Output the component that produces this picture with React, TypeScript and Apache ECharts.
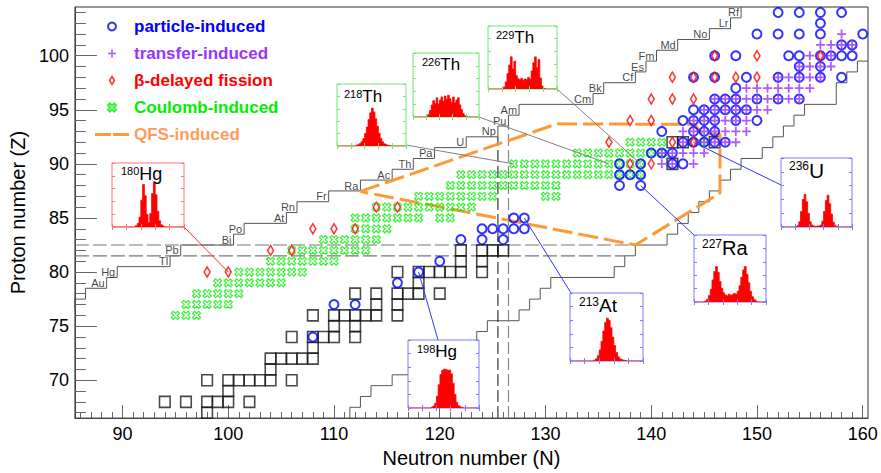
import React, { useEffect, useRef } from "react";
import * as echarts from "echarts";

const FONT = "'Liberation Sans', Arial, Helvetica, sans-serif";

// ---------- axis ticks ----------
const xMajorTicks = [90, 100, 110, 120, 130, 140, 150, 160];
const xMinorTicks = [86,87,88,89,90,91,92,93,94,95,96,97,98,99,100,101,102,103,104,105,106,107,108,109,110,111,112,113,114,115,116,117,118,119,120,121,122,123,124,125,126,127,128,129,130,131,132,133,134,135,136,137,138,139,140,141,142,143,144,145,146,147,148,149,150,151,152,153,154,155,156,157,158,159,160];
const yMajorTicks = [70, 75, 80, 85, 90, 95, 100];
const yMinorTicks = [67,68,69,70,71,72,73,74,75,76,77,78,79,80,81,82,83,84,85,86,87,88,89,90,91,92,93,94,95,96,97,98,99,100,101,102,103,104];

// ---------- limits of known nuclei ----------
const pdlZ = [77,78,79,80,81,82,83,84,85,86,87,88,89,90,91,92,93,94,95,96,97,98,99,100,101,102,103,104];
const pdlNmin = [86,87,89,90,95,96,101,102,106,107,110,113,116,118,120,123,126,127,128,135,136,139,140,141,143,146,148,149];
const ndlZ = [67,68,69,70,71,72,73,74,75,76,77,78,79,80,81,82,83,84,85,86,87,88,89,90,91,92,93,94,95,96,97,98,99];
const ndlNmax = [111,112,113,115,117,119,121,123,124,127,128,129,130,136,137,138,141,142,143,144,145,146,147,148,150,151,152,153,154,157,157,158,159];
const elemZ = [79,80,81,82,83,84,85,86,87,88,89,90,91,92,93,94,95,96,97,98,99,100,101,102,103,104];
const elemSym = ["Au","Hg","Tl","Pb","Bi","Po","At","Rn","Fr","Ra","Ac","Th","Pa","U","Np","Pu","Am","Cm","Bk","Cf","Es","Fm","Md","No","Lr","Rf"];

// magic-number guide lines
const magicZLines = [[[85.5, 82.5], [138.5, 82.5]], [[85.5, 81.5], [137.5, 81.5]]];
const magicNLines = [[[125.5, 66.5], [125.5, 92.5]], [[126.5, 66.5], [126.5, 93.5]]];

// QFS region polygon
const qfsN = [112.5, 131.1, 144.1, 144.8, 146.5, 146.5, 138.5, 112.5];
const qfsZ = [87.45, 93.7, 93.65, 92.75, 92.75, 87.3, 82.5, 87.45];

// ---------- nuclei (rows: [Z, N list]) ----------
const blackSquareRows: [number, number[]][] = [
  [67, [98]],
  [68, [94, 96, 98, 99, 100, 102]],
  [69, [100]],
  [70, [98, 100, 101, 102, 103, 104, 106]],
  [71, [104]],
  [72, [104, 105, 106, 107, 108]],
  [73, [108]],
  [74, [106, 108, 109, 110, 112]],
  [75, [110, 112]],
  [76, [108, 110, 111, 112, 113, 114, 116]],
  [77, [114, 116]],
  [78, [112, 114, 116, 117, 118, 120]],
  [79, [118]],
  [80, [116, 118, 119, 120, 121, 122, 124]],
  [81, [122, 124]],
  [82, [122, 124, 125, 126]],
  [90, [142]],
  [92, [142, 143, 146]],
];
const coulombRows: [number, number[]][] = [
  [76, [95, 96, 97]],
  [77, [96, 97, 98, 99, 100]],
  [78, [97, 98, 99, 100, 101]],
  [79, [99, 100, 101, 102, 103, 104, 105]],
  [80, [101, 102, 103, 104, 105, 106, 107]],
  [81, [104, 105, 106, 107, 108, 109, 110]],
  [82, [106, 107, 108, 109, 110, 111, 112, 113]],
  [83, [109, 110, 111, 112, 113, 114]],
  [84, [112, 113, 114, 115]],
  [85, [112, 113, 114, 115, 116, 117, 118, 120, 121]],
  [86, [114, 115, 116, 117, 118, 119, 120, 121, 122, 123]],
  [87, [118, 119, 120, 121, 122, 123, 124, 125, 130, 131]],
  [88, [121, 122, 123, 124, 125, 126, 127, 128, 129, 130, 131]],
  [89, [122, 123, 124, 125, 126, 127, 128, 129, 130, 131, 132, 133, 134, 135, 136, 137, 138, 139]],
  [90, [127, 128, 129, 130, 131, 132, 133, 134, 135, 136, 137, 138, 139]],
  [91, [133, 134, 135, 136, 137, 138, 139, 140, 141]],
  [92, [138, 139, 140, 141, 144, 145]],
];
const particleRows: [number, number[]][] = [
  [74, [108]],
  [77, [110, 112]],
  [79, [116]],
  [80, [118]],
  [81, [120]],
  [83, [122, 124, 126]],
  [84, [124, 125, 126, 127, 128]],
  [85, [127, 128]],
  [88, [137, 139]],
  [89, [137, 138, 139]],
  [90, [137, 139, 142, 143]],
  [91, [140, 141, 142]],
  [92, [143, 144, 145, 146, 147]],
  [93, [141, 144, 145, 146]],
  [94, [143, 144, 145, 146, 148, 150]],
  [95, [144, 145, 146, 147, 148, 149]],
  [96, [146, 147, 148, 150, 152, 154]],
  [97, [148]],
  [98, [144, 146, 149, 152, 154, 156, 158]],
  [99, [154, 156]],
  [100, [146, 148, 153, 154, 156, 157, 158, 159]],
  [101, [158, 159]],
  [102, [150, 152, 154, 156, 160]],
  [103, [156]],
  [104, [152, 154, 156, 158]],
];
const transferRows: [number, number[]][] = [
  [90, [141, 142, 144]],
  [91, [141, 142, 143, 144, 145]],
  [92, [143, 144, 145, 146, 147, 148]],
  [93, [143, 144, 145, 146, 147, 148, 149]],
  [94, [144, 145, 146, 147, 148, 149]],
  [95, [145, 146, 147, 148, 149, 150, 151]],
  [96, [146, 147, 148, 149, 150, 151, 152, 153, 154]],
  [97, [149, 150, 151, 152, 153, 154, 155]],
  [98, [152, 153, 154, 155, 156]],
  [99, [154, 155, 156, 157]],
  [100, [155, 156, 157]],
  [101, [156, 157, 158, 159]],
  [102, [158]],
];
const betaDelayedRows: [number, number[]][] = [
  [80, [98, 100]],
  [82, [104, 106]],
  [84, [108, 110, 112]],
  [86, [114, 116]],
  [90, [138, 140]],
  [92, [136, 142, 144]],
  [94, [138, 140]],
  [96, [140, 142, 144]],
  [98, [142, 144, 146, 148, 150]],
  [100, [146, 150, 156]],
];

// ---------- inset histograms (fission-fragment distributions) ----------
const hist180Hg = [0,0,0,0,0,0,0,0,0,0,0,0,0,3,8,22,60,95,70,28,10,30,75,100,72,35,14,5,2,0,0,0,0,0,0,0,0,0,0,0];
const hist218Th = [0,0,0,0,0,0,0,0,0,0,0,2,4,7,12,20,33,50,70,88,100,90,72,52,34,20,11,6,4,2,1,0,0,0,0,0,0,0,0,0];
const hist226Th = [0,0,0,0,0,0,0,0,4,12,30,55,75,62,88,60,78,92,72,96,82,100,84,68,92,66,78,88,56,34,16,6,2,0,0,0,0,0,0,0];
const hist229Th = [0,0,0,0,0,0,0,0,0,6,22,48,75,100,62,86,42,32,29,33,27,31,29,36,31,56,82,100,66,92,34,9,2,0,0,0,0,0,0,0];
const hist236U = [0,0,0,0,0,0,0,0,0,4,16,48,85,100,78,42,16,6,3,2,3,3,6,18,48,82,98,72,40,15,5,1,0,0,0,0,0,0,0,0];
const hist227Ra = [0,0,0,0,0,0,3,8,18,36,62,86,100,84,58,38,26,20,17,22,18,21,24,22,30,46,70,90,100,78,54,30,15,7,3,0,0,0,0,0];
const hist213At = [0,0,0,0,0,0,0,0,0,0,0,0,0,2,5,12,26,46,70,90,100,95,78,56,36,20,10,5,3,2,1,0,0,0,0,0,0,0,0,0];
const hist198Hg = [0,0,0,0,0,0,0,0,0,0,0,0,0,2,5,12,30,60,86,97,100,99,97,98,88,64,35,15,6,3,1,0,0,0,0,0,0,0,0,0];

const insetMass = ["180", "218", "226", "229", "236", "227", "213", "198"];
const insetElem = ["Hg", "Th", "Th", "Th", "U", "Ra", "At", "Hg"];
const insetNuclei = [[100, 80], [127, 90], [136, 90], [139, 90], [144, 92], [139, 88], [128, 85], [118, 80]];
const insetHists = [hist180Hg, hist218Th, hist226Th, hist229Th, hist236U, hist227Ra, hist213At, hist198Hg];

// ---------- inset layout (pixels) & styles ----------
const insetLayout = [
  { x: 112, y: 163, w: 72, h: 64, color: "#ff7373", line: "#ff2a2a", ax: 184, ay: 227, ymax: 143, sup: 11, big: 18, tx: 121, ty: 165 },
  { x: 337, y: 84, w: 69, h: 62, color: "#73e673", line: "#808080", ax: 406, ay: 145, ymax: 164, sup: 11, big: 17, tx: 344, ty: 88 },
  { x: 413, y: 53, w: 66, h: 64, color: "#73e673", line: "#808080", ax: 479, ay: 117, ymax: 294, sup: 11, big: 17, tx: 422, ty: 56 },
  { x: 488, y: 26, w: 69, h: 63, color: "#73e673", line: "#808080", ax: 557, ay: 89, ymax: 196, sup: 11, big: 17, tx: 496, ty: 29 },
  { x: 781, y: 158, w: 71, h: 69, color: "#7b7bff", line: "#3535ff", ax: 781, ay: 185, ymax: 213, sup: 12, big: 21, tx: 789, ty: 160 },
  { x: 694, y: 235, w: 72, h: 67, color: "#7b7bff", line: "#3535ff", ax: 694, ay: 235, ymax: 189, sup: 12, big: 20, tx: 702, ty: 238 },
  { x: 570, y: 293, w: 73, h: 68, color: "#7b7bff", line: "#3535ff", ax: 571, ay: 293, ymax: 159, sup: 12, big: 19, tx: 579, ty: 296 },
  { x: 408, y: 340, w: 71, h: 68, color: "#7b7bff", line: "#3535ff", ax: 438, ay: 340, ymax: 175, sup: 11, big: 17, tx: 417, ty: 343 },
];

const GREEN_X = "path://M1.98,-3.68L3.68,-1.98L1.7,0L3.68,1.98L1.98,3.68L0,1.7L-1.98,3.68L-3.68,1.98L-1.7,0L-3.68,-1.98L-1.98,-3.68L0,-1.7Z";
const PLUS = "path://M-1,-5L1,-5L1,-1L5,-1L5,1L1,1L1,5L-1,5L-1,1L-5,1L-5,-1L-1,-1Z";
const DIAMOND = "path://M0,-5L3,0L0,5L-3,0Z";
const DASHES = "path://M0,0L15,0L15,3L0,3Z M17,0L32,0L32,3L17,3Z";

const flat = (rows: [number, number[]][]) => rows.flatMap(([z, ns]) => ns.map((n) => [n, z]));

export default function App() {
  const ref = useRef<HTMLDivElement>(null);

  useEffect(() => {
    const chart = echarts.init(ref.current!, null, { renderer: "svg" });

    const pdl: number[][] = [];
    pdlZ.forEach((z, i) => {
      pdl.push([pdlNmin[i] - 0.5, z - 0.5]);
      pdl.push([pdlNmin[i] - 0.5, z + 0.5]);
    });
    const ndl: number[][] = [];
    ndlZ.forEach((z, i) => {
      ndl.push([ndlNmax[i] + 0.5, z - 0.5]);
      ndl.push([ndlNmax[i] + 0.5, z + 0.5]);
    });
    ndl.push([160.5, ndlZ[ndlZ.length - 1] + 0.5]);

    const elemData = elemZ.map((z, i) => {
      const k = pdlZ.indexOf(z);
      return { name: elemSym[i], value: [pdlNmin[k] - 0.5, z] };
    });

    const grids: any[] = [
      { left: 74, right: 13, top: 7, bottom: 47, show: true, borderColor: "#333", borderWidth: 1, backgroundColor: "transparent" },
    ];
    const xAxes: any[] = [
      {
        type: "value", gridIndex: 0, min: 85.5, max: 160.5, position: "bottom",
        axisLine: { show: true, onZero: false, lineStyle: { color: "#444", width: 1 } },
        axisTick: { show: true, inside: true, length: 13, customValues: xMajorTicks, lineStyle: { color: "#666" } },
        axisLabel: { show: true, customValues: xMajorTicks, fontSize: 18, color: "#000", margin: 7, fontFamily: FONT },
        splitLine: { show: false },
        name: "Neutron number (N)", nameLocation: "middle", nameGap: 23,
        nameTextStyle: { fontSize: 20, color: "#000", fontFamily: FONT },
      },
      {
        type: "value", gridIndex: 0, min: 85.5, max: 160.5, position: "bottom", offset: 0,
        axisLine: { show: false, onZero: false },
        axisTick: { show: true, inside: true, length: 6, customValues: xMinorTicks, lineStyle: { color: "#666" } },
        axisLabel: { show: false }, splitLine: { show: false },
      },
    ];
    const yAxes: any[] = [
      {
        type: "value", gridIndex: 0, min: 66.5, max: 104.5, position: "left",
        axisLine: { show: true, onZero: false, lineStyle: { color: "#444", width: 1 } },
        axisTick: { show: true, inside: true, length: 22, customValues: yMajorTicks, lineStyle: { color: "#666" } },
        axisLabel: { show: true, customValues: yMajorTicks, fontSize: 18, color: "#000", margin: 6, fontFamily: FONT },
        splitLine: { show: false },
        name: "Proton number (Z)", nameLocation: "middle", nameGap: 46,
        nameTextStyle: { fontSize: 20, color: "#000", fontFamily: FONT },
      },
      {
        type: "value", gridIndex: 0, min: 66.5, max: 104.5, position: "left", offset: 0,
        axisLine: { show: false, onZero: false },
        axisTick: { show: true, inside: true, length: 11, customValues: yMinorTicks, lineStyle: { color: "#666" } },
        axisLabel: { show: false }, splitLine: { show: false },
      },
    ];

    const series: any[] = [
      { name: "squares", type: "scatter", data: flat(blackSquareRows), symbol: "rect", symbolSize: [10.6, 11],
        itemStyle: { color: "rgba(0,0,0,0)", borderColor: "#1a1a1a", borderWidth: 1.6 }, silent: true, z: 3 },
      { name: "pdl", type: "line", data: pdl, symbol: "none", lineStyle: { color: "#555", width: 1 }, silent: true, z: 2 },
      { name: "ndl", type: "line", data: ndl, symbol: "none", lineStyle: { color: "#555", width: 1 }, silent: true, z: 2 },
      ...magicZLines.map((d, i) => ({ name: "mz" + i, type: "line", data: d, symbol: "none",
        lineStyle: { color: "#777", width: 1.2, type: [14, 4] }, silent: true, z: 2 })),
      ...magicNLines.map((d, i) => ({ name: "mn" + i, type: "line", data: d, symbol: "none",
        lineStyle: { color: i === 0 ? "#333" : "#888", width: 1.2, type: [12, 4] }, silent: true, z: 2 })),
      { name: "QFS-induced", type: "line", data: qfsN.map((n, i) => [n, qfsZ[i]]), symbol: "none",
        itemStyle: { color: "#ff9933" },
        lineStyle: { color: "#ff9933", width: 3, type: [20, 6] }, silent: true, z: 4 },
      { name: "Coulomb-induced", type: "scatter", data: flat(coulombRows), symbol: GREEN_X, symbolSize: 8,
        itemStyle: { color: "rgba(0,0,0,0)", borderColor: "#00ee00", borderWidth: 1.2 }, silent: true, z: 4 },
      { name: "particle-induced", type: "scatter", data: flat(particleRows), symbol: "circle", symbolSize: 9,
        itemStyle: { color: "rgba(0,0,0,0)", borderColor: "#0000ff", borderWidth: 2 }, silent: true, z: 5 },
      { name: "transfer-induced", type: "scatter", data: flat(transferRows), symbol: PLUS, symbolSize: 9,
        itemStyle: { color: "#9933ff" }, silent: true, z: 6 },
      { name: "β-delayed fission", type: "scatter", data: flat(betaDelayedRows), symbol: DIAMOND, symbolSize: [6, 10],
        itemStyle: { color: "#ffffff", borderColor: "#ff0000", borderWidth: 1.6 }, silent: true, z: 7 },
      { name: "elements", type: "scatter", data: elemData, symbolSize: 0, silent: true, z: 4,
        label: { show: true, position: "left", distance: 2, formatter: "{b}", fontSize: 11, color: "#111", fontFamily: FONT } },
    ];

    insetLayout.forEach((L, i) => {
      const g = i + 1;
      grids.push({ left: L.x, top: L.y, width: L.w, height: L.h, show: false });
      const cats = insetHists[i].map((_, k) => String(k));
      const tick = { show: true, inside: true, length: 3, lineStyle: { color: L.color } };
      xAxes.push({ type: "category", gridIndex: g, data: cats, position: "bottom", z: 12,
        axisLine: { show: false }, axisLabel: { show: false }, splitLine: { show: false },
        axisTick: { ...tick, interval: 7 } });
      xAxes.push({ type: "category", gridIndex: g, data: cats, position: "top", z: 12,
        axisLine: { show: false }, axisLabel: { show: false }, splitLine: { show: false },
        axisTick: { ...tick, interval: 7 } });
      yAxes.push({ type: "value", gridIndex: g, min: 0, max: L.ymax, interval: L.ymax / 5, position: "left", z: 12,
        axisLine: { show: false }, axisLabel: { show: false }, splitLine: { show: false }, axisTick: tick });
      yAxes.push({ type: "value", gridIndex: g, min: 0, max: L.ymax, interval: L.ymax / 5, position: "right", z: 12,
        axisLine: { show: false }, axisLabel: { show: false }, splitLine: { show: false }, axisTick: tick });
      series.push({ name: "hist" + i, type: "line", step: "middle", xAxisIndex: 2 + 2 * i, yAxisIndex: 2 + 2 * i,
        data: insetHists[i], symbol: "none", lineStyle: { color: "#ff0000", width: 0.8 },
        areaStyle: { color: "#ff0000", opacity: 1 }, silent: true, z: 11 });
    });

    const legendText = [
      ["particle-induced", "#0000ff", null],
      ["transfer-induced", "#9933ff", null],
      ["β-delayed fission", "#ff0000", DIAMOND],
      ["Coulomb-induced", "#00ee00", null],
      ["QFS-induced", "#ff9c5c", DASHES],
    ];

    chart.setOption({
      animation: false,
      backgroundColor: "#ffffff",
      grid: grids,
      xAxis: xAxes,
      yAxis: yAxes,
      legend: {
        orient: "vertical", left: 95, top: 18, padding: 0, itemWidth: 34, itemHeight: 8, itemGap: 10,
        selectedMode: false, symbolKeepAspect: true,
        textStyle: { fontSize: 17, fontWeight: "bold", fontFamily: FONT },
        data: legendText.map(([name, color, icon]) => {
          const item: any = { name, textStyle: { color } };
          if (icon === DIAMOND) {
            item.icon = DIAMOND;
            item.itemStyle = { color: "#ffffff", borderColor: "#ff0000", borderWidth: 1.6 };
          }
          if (icon === DASHES) {
            item.icon = DASHES;
            item.itemStyle = { color: "#ff9933", borderWidth: 0 };
          }
          return item;
        }),
      },
      series,
    });

    const graphics: any[] = [];
    insetLayout.forEach((L, i) => {
      const p = chart.convertToPixel({ seriesIndex: 0 }, insetNuclei[i]) as number[];
      graphics.push({ type: "line", silent: true, z: 8,
        shape: { x1: L.ax, y1: L.ay, x2: p[0], y2: p[1] }, style: { stroke: L.line, lineWidth: 1 } });
      graphics.push({ type: "rect", silent: true, z: 10,
        shape: { x: L.x, y: L.y, width: L.w, height: L.h }, style: { fill: "#ffffff", stroke: L.color, lineWidth: 1 } });
      graphics.push({ type: "text", silent: true, z: 13, x: L.tx, y: L.ty,
        style: {
          text: "{s|" + insetMass[i] + "}{e|" + insetElem[i] + "}",
          verticalAlign: "top", align: "left", fill: "#000",
          rich: {
            s: { fontSize: L.sup, fontFamily: FONT, fill: "#000", verticalAlign: "top" },
            e: { fontSize: L.big, fontFamily: FONT, fill: "#000" },
          },
        } });
    });
    chart.setOption({ graphic: { elements: graphics } });

    return () => chart.dispose();
  }, []);

  return (
    <div
      ref={ref}
      style={{ position: "fixed", left: 0, top: 0, width: 881, height: 473, background: "#fff" }}
    />
  );
}
